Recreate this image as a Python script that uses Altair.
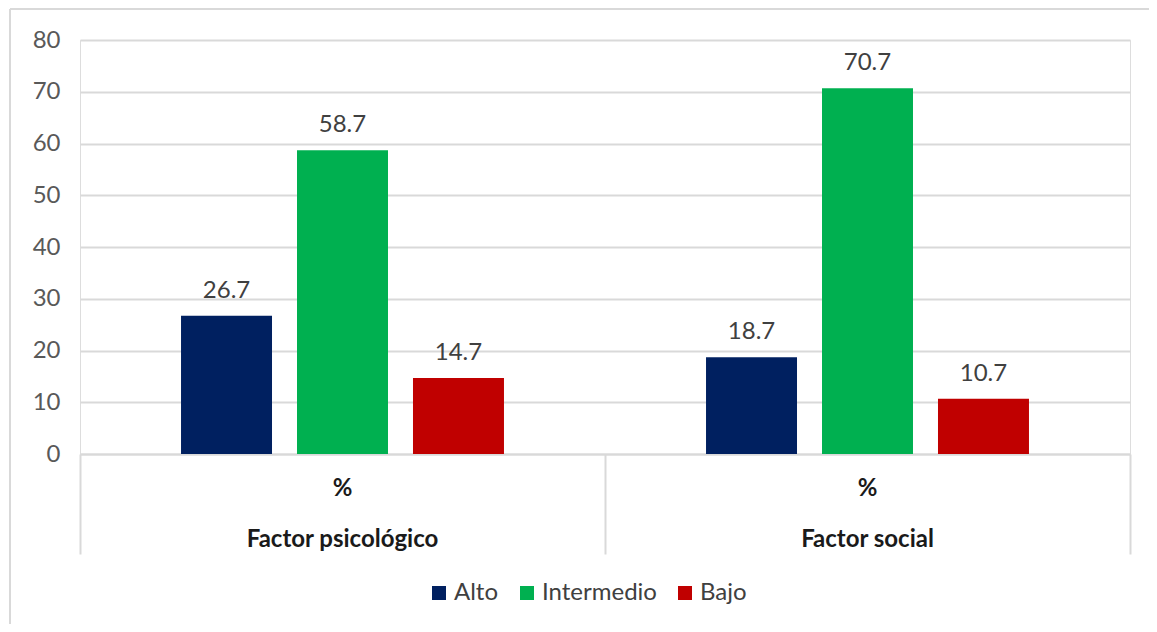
import altair as alt
import pandas as pd

factors = ["Factor psicológico", "Factor social"]
levels = ["Alto", "Intermedio", "Bajo"]
values_psico = [26.7, 58.7, 14.7]
values_social = [18.7, 70.7, 10.7]
colors = ["#002060", "#00B050", "#C00000"]
y_ticks = [0, 10, 20, 30, 40, 50, 60, 70, 80]
unit_label = "%"

rows = []
for f, vals in zip(factors, [values_psico, values_social]):
    for lv, v in zip(levels, vals):
        rows.append({"factor": f, "level": lv, "value": v})
df = pd.DataFrame(rows)
cat_df = pd.DataFrame({"factor": factors, "unit": [unit_label] * len(factors)})

FONT = "Lato"
GRID = "#d9d9d9"

x_enc = alt.X("factor:N", sort=factors,
              scale=alt.Scale(paddingInner=0, paddingOuter=0),
              axis=alt.Axis(labels=False, title=None, tickBand="extent",
                            tickSize=100, tickColor=GRID, tickWidth=2,
                            domainColor=GRID, domainWidth=2))
xo_enc = alt.XOffset("level:N", sort=levels,
                     scale=alt.Scale(paddingInner=0.2155, paddingOuter=0.871))
y_enc = alt.Y("value:Q",
              scale=alt.Scale(domain=[0, 80], nice=False),
              axis=alt.Axis(values=y_ticks, grid=True, gridColor=GRID, gridWidth=2,
                            domain=False, ticks=False, labelPadding=20,
                            labelFontSize=24, labelColor="#595959", labelFont=FONT,
                            title=None))

bars = alt.Chart(df).mark_bar().encode(
    x=x_enc,
    xOffset=xo_enc,
    y=y_enc,
    color=alt.Color("level:N", sort=levels,
                    scale=alt.Scale(domain=levels, range=colors),
                    legend=alt.Legend(orient="none", direction="horizontal",
                                      legendX=347, legendY=541, title=None,
                                      symbolType="square", symbolSize=196,
                                      symbolStrokeWidth=0,
                                      labelFontSize=24, labelFont=FONT,
                                      labelColor="#404040", labelOffset=3,
                                      columnPadding=16, labelLimit=0)),
)

labels = alt.Chart(df).mark_text(
    baseline="alphabetic", dy=-18, fontSize=24, font=FONT, color="#404040"
).encode(
    x=alt.X("factor:N", sort=factors),
    xOffset=alt.XOffset("level:N", sort=levels),
    y="value:Q",
    text=alt.Text("value:Q", format=".1f"),
)

unit_text = alt.Chart(cat_df).mark_text(
    baseline="alphabetic", fontSize=24, font=FONT, fontWeight="bold", color="#1a1a1a"
).encode(
    x=alt.X("factor:N", sort=factors),
    y=alt.value(456),
    text="unit:N",
)

factor_text = alt.Chart(cat_df).mark_text(
    baseline="alphabetic", fontSize=24, font=FONT, fontWeight="bold", color="#1a1a1a"
).encode(
    x=alt.X("factor:N", sort=factors),
    y=alt.value(507),
    text="factor:N",
)

border_top = alt.Chart(cat_df).mark_rule(color=GRID, strokeWidth=2).encode(
    x=alt.value(-70), x2=alt.value(1080), y=alt.value(-31)
)
border_left = alt.Chart(cat_df).mark_rule(color=GRID, strokeWidth=2).encode(
    x=alt.value(-70), y=alt.value(-31), y2=alt.value(600)
)

chart = alt.layer(bars, labels, unit_text, factor_text, border_top, border_left).properties(
    width=1050, height=414,
    autosize=alt.AutoSizeParams(type="none"),
    padding={"left": 72, "top": 32, "right": 19, "bottom": 170},
).configure_view(stroke=None).configure(background="white")

chart.save("out.html", embed_options={"renderer": "svg", "actions": False})
